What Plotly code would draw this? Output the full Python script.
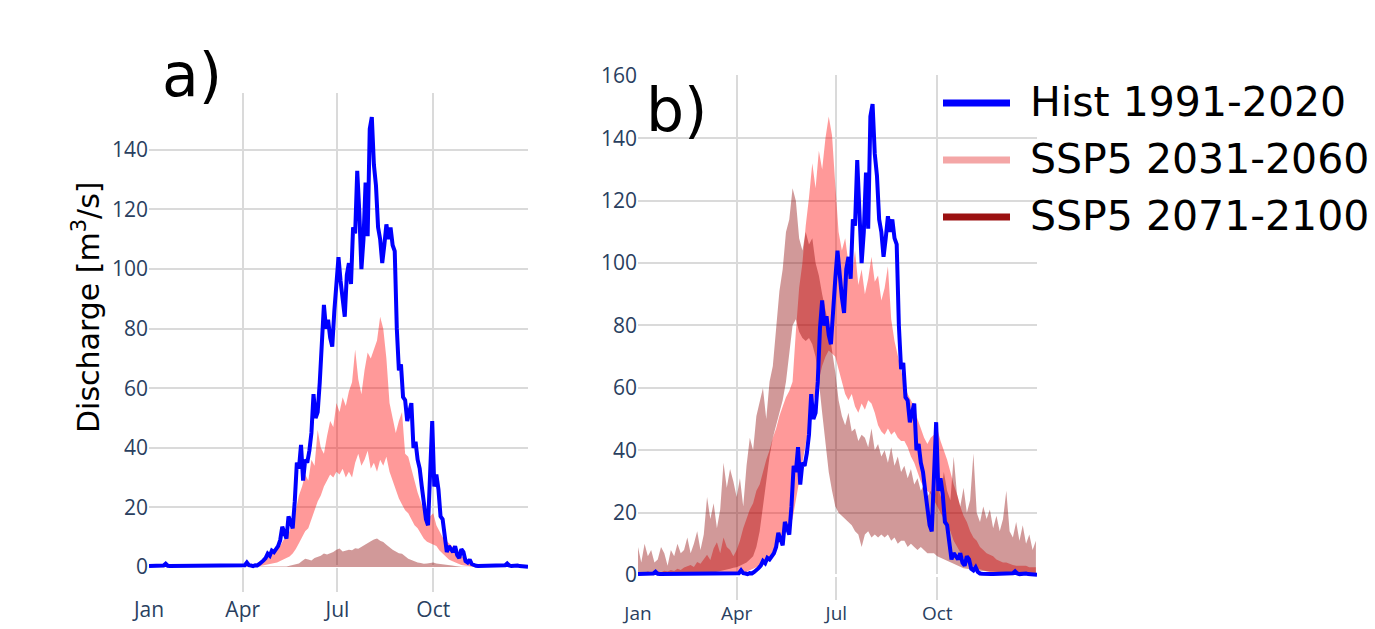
import plotly.graph_objects as go
import pandas as pd

# ---------------- data ----------------
START = "2021-01-01"
END = "2021-12-31"
HIST_STEP_DAYS = 2      # historic series sampled every 2 days
BAND_STEP_DAYS = 3      # scenario bands sampled every 3 days

month_ticks = ["2021-01-01", "2021-04-01", "2021-07-01", "2021-10-01"]
month_labels = ["Jan", "Apr", "Jul", "Oct"]

series_names = ["Hist 1991-2020", "SSP5 2031-2060", "SSP5 2071-2100"]

# Hist 1991-2020 (same in both panels), m3/s
hist = [
    0.3, 0.3, 0.4, 0.3, 0.3, 0.4, 0.3, 0.5, 1.1, 0.4,
    0.3, 0.3, 0.3, 0.3, 0.3, 0.3, 0.3, 0.3, 0.3, 0.3,
    0.3, 0.3, 0.3, 0.3, 0.3, 0.3, 0.3, 0.3, 0.3, 0.3,
    0.3, 0.3, 0.3, 0.3, 0.3, 0.3, 0.3, 0.3, 0.3, 0.3,
    0.3, 0.3, 0.4, 0.4, 0.4, 0.5, 0.6, 1.5, 0.6, 0.5,
    0.3, 0.6, 0.5, 1.0, 1.5, 2.2, 3.0, 4.5, 3.8, 5.5,
    5.0, 6.2, 7.0, 9.0, 13.5, 11.5, 9.5, 17, 15, 13,
    22, 35, 33, 41, 29, 36, 35, 39, 45, 58,
    50, 52, 62, 79, 88, 80, 83, 77, 74, 86,
    95, 104, 96, 89, 84, 98, 102, 95, 114, 112,
    133, 119, 100, 110, 129, 111, 147, 151, 135, 128,
    114, 110, 102, 108, 115, 110, 114, 108, 106, 80,
    66, 68, 57, 56, 49, 52, 55, 40, 42, 36,
    33, 27, 22, 16, 14, 30, 49, 27, 31, 26,
    17, 16, 9, 5, 7, 6, 5, 7, 4, 3,
    6, 5, 2, 1.5, 2.5, 1.0, 0.5, 0.4, 0.3, 0.3,
    0.3, 0.3, 0.3, 0.3, 0.3, 0.3, 0.3, 0.3, 0.3, 0.3,
    0.4, 0.6, 1.2, 0.5, 0.3, 0.4, 0.3, 0.5, 0.3, 0.2,
    0.4, 0.2, 0.1,
]

# panel a) SSP5 2031-2060 band
a_near_lo = [
    0, 0, 0, 0, 0, 0, 0, 0, 0, 0,
    0, 0, 0, 0, 0, 0, 0, 0, 0, 0,
    0, 0, 0, 0, 0, 0, 0, 0, 0, 0,
    0, 0, 0, 0, 0.1, 0.2, 0.4, 0.6, 0.8, 1.0,
    1.2, 1.5, 2.0, 2.5, 3.0, 3.5, 4.5, 6, 8, 10,
    12, 13, 16, 19, 22, 24, 27, 29, 31, 30,
    32, 31, 33, 30, 32, 30, 35, 38, 34, 36,
    39, 33, 35, 32, 36, 34, 37, 32, 29, 26,
    23, 21, 19, 18, 16, 14, 13, 11, 9.5, 8.5,
    8, 7.5, 7, 5.5, 4.5, 3.5, 2.5, 2, 1.5, 1,
    0.7, 0.5, 0.3, 0.2, 0.1, 0.1, 0.1, 0.1, 0.1, 0.1,
    0.1, 0.1, 0.1, 0.1, 0.1, 0.1, 0.1, 0.1, 0.1, 0.1,
    0.1, 0.1,
]
a_near_hi = [
    0, 0, 0, 0, 0, 0, 0, 0, 0, 0,
    0, 0, 0, 0, 0, 0, 0, 0, 0, 0,
    0, 0, 0, 0, 0, 0, 0, 0, 0, 0,
    0, 0, 0, 0, 0.3, 0.6, 1.2, 2.0, 3.0, 4.0,
    5.0, 6.5, 7.0, 9.0, 10, 12, 15, 19, 24, 27,
    31, 29, 36, 34, 46, 40, 38, 44, 49, 47,
    55, 52, 57, 54, 59, 62, 73, 63, 58, 66,
    72, 70, 73, 76, 84, 80, 70, 55, 50, 45,
    49, 52, 38, 37, 33, 29, 25, 22, 19, 17,
    17, 18, 14, 12, 10, 9, 8, 7, 5.5, 4.5,
    3.5, 2.5, 1.8, 1.2, 0.8, 0.5, 0.3, 0.1, 0.1, 0.1,
    0.1, 0.1, 0.1, 0.1, 0.1, 0.1, 0.1, 0.1, 0.1, 0.1,
    0.1, 0.1,
]
# panel a) SSP5 2071-2100 band (upper edge; lower edge is zero)
a_far_hi = [
    0, 0, 0, 0, 0, 0, 0, 0, 0, 0,
    0, 0, 0, 0, 0, 0, 0, 0, 0, 0,
    0, 0, 0, 0, 0, 0, 0, 0, 0, 0,
    0, 0, 0, 0, 0, 0, 0, 0, 0, 0,
    0, 0, 0, 0, 0.2, 0.4, 0.6, 0.9, 1.2, 2.0,
    2.8, 2.5, 2.2, 3.0, 3.4, 3.8, 4.5, 4.2, 4.6, 5.0,
    5.8, 6.2, 5.2, 5.4, 5.8, 5.6, 6.3, 6.1, 6.8, 7.5,
    8.0, 8.6, 9.2, 9.6, 8.8, 8.4, 7.5, 6.6, 5.8, 5.2,
    4.6, 4.4, 3.5, 2.8, 2.3, 1.8, 1.5, 1.3, 1.1, 1.2,
    1.4, 1.5, 1.2, 1.1, 1.0, 0.8, 0.6, 0.5, 0.3, 0.1,
    0.1, 0.1, 0.1, 0.1, 0.1, 0.1, 0.1, 0.1, 0.1, 0.1,
    0.1, 0.1, 0.1, 0.1, 0.1, 0.1, 0.1, 0.1, 0.1, 0.1,
    0.1, 0.1,
]

# panel b) SSP5 2031-2060 band
b_near_lo = [
    0, 0, 0, 0, 0, 0, 0, 0, 0, 0,
    0, 0, 0, 0, 0, 0, 0, 0, 0, 0,
    0, 0, 0, 0, 0, 0, 0, 0, 0, 0,
    0.3, 0.5, 0.8, 1.0, 1.5, 2, 2.5, 3, 4, 5,
    6, 7.5, 9, 11, 12, 14, 16, 18, 24, 30,
    36, 42, 48, 54, 58, 63, 67, 70, 72, 71,
    70, 66, 62, 58, 56, 58, 54, 52, 55, 53,
    56, 55, 52, 48, 46, 45, 47, 45, 46, 44,
    43, 43, 41, 38, 36, 33, 30, 28, 27, 26,
    24, 22, 20, 18, 16, 14, 11, 9, 7, 5.5,
    4.5, 3.5, 2.8, 2.2, 1.8, 1.5, 1.2, 1.0, 0.9, 0.8,
    0.7, 0.6, 0.6, 0.5, 0.5, 0.5, 0.4, 0.4, 0.4, 0.4,
    0.4, 0.4,
]
b_near_hi = [
    0.6, 1.0, 0.7, 1.2, 0.8, 1.0, 1.3, 0.9, 1.4, 1.1,
    1.6, 1.3, 2.0, 1.6, 2.4, 2.8, 3.2, 2.6, 4.2, 3.6,
    5.0, 6.5, 4.8, 8.5, 10.5, 7.0, 12.0, 9.0, 8.0, 6.0,
    8, 11, 15, 18, 21, 23, 27, 29, 33, 37,
    40, 44, 47, 51, 54, 57, 59, 62, 78, 92,
    100, 112, 121, 132, 124, 136, 130, 140, 147, 141,
    125, 110, 104, 108, 100, 96, 104, 93, 98, 90,
    95, 102, 94, 96, 88, 92, 99, 82, 75, 70,
    66, 61, 58, 56, 54, 50, 47, 44, 42, 44,
    45, 47, 43, 40, 37, 33, 29, 26, 22, 19,
    17, 14, 12, 11, 9, 8, 7, 6.5, 6, 5,
    4.5, 4, 4, 3.5, 3.2, 3, 3, 2.8, 3, 2.5,
    2.6, 2.5,
]
# panel b) SSP5 2071-2100 band
b_far_lo = [
    0.3, 0.3, 0.3, 0.3, 0.3, 0.3, 0.3, 0.3, 0.3, 0.3,
    0.3, 0.3, 0.3, 0.3, 0.3, 0.3, 0.3, 0.3, 0.3, 0.3,
    0.4, 0.5, 0.6, 0.8, 1.0, 1.2, 1.5, 1.8, 2.0, 2.3,
    2.5, 3, 3.5, 4, 5, 6, 9, 14, 22, 30,
    38, 44, 48, 52, 56, 62, 72, 80, 82, 78,
    76, 75, 76, 74, 70, 62, 52, 42, 33, 27,
    22, 20, 19, 18, 17, 16, 14, 13, 9, 13,
    14, 12, 13, 12, 13, 12, 13, 11, 12, 10,
    11, 11, 9, 10, 9, 8, 9, 8, 7, 7,
    7, 6, 5.5, 5, 4.5, 4, 3.5, 3, 2.5, 2.2,
    2, 1.8, 1.6, 1.5, 1.4, 1.3, 1.2, 1.1, 1.0, 1.0,
    0.9, 0.9, 0.8, 0.8, 0.8, 0.7, 0.7, 0.7, 0.6, 0.6,
    0.6, 0.6,
]
b_far_hi = [
    9, 4, 10, 6, 8, 4, 5, 9, 7, 3,
    8, 6, 10, 7, 8, 12, 7, 10, 14, 8,
    13, 25, 18, 23, 15, 21, 36, 28, 34, 30,
    25, 31, 22, 35, 44, 40, 51, 56, 60, 50,
    62, 67, 78, 91, 98, 110, 114, 124, 120, 108,
    104, 110, 106, 108, 100, 96, 90, 85, 80, 72,
    65, 56, 51, 48, 52, 46, 47, 43, 45, 44,
    41, 47, 40, 42, 38, 40, 36, 41, 35, 38,
    33, 35, 31, 34, 29, 31, 27, 29, 25, 27,
    24, 30, 25, 33, 27, 24, 38, 26, 22, 28,
    20, 24, 39, 20, 17, 22, 18, 21, 15, 19,
    14, 18, 27, 14, 12, 17, 11, 16, 10, 13,
    8, 11,
]

# ---------------- styling ----------------
W, H = 1375, 629
BLUE = "#0000ff"
NEAR_FILL = "rgba(255,0,0,0.4)"
FAR_FILL = "rgba(139,0,0,0.4)"
NEAR_LEG = "rgba(240,128,128,0.7)"
FAR_LEG = "rgb(155,17,17)"
GRID = "rgb(218,218,218)"
TICK_FONT = dict(family="Open Sans", size=21, color="#2a3f5f")
TICK_FONT_B_X = dict(family="Open Sans", size=19, color="#2a3f5f")
BIG_FONT = "DejaVu Sans"


def dates(values, step):
    t0 = pd.Timestamp(START)
    return [t0 + pd.Timedelta(days=step * i) for i in range(len(values))]


def fx(p):
    return p / W


def fy(p):
    return 1 - p / H


fig = go.Figure()


def band(lo, hi, color, xa, ya):
    if lo is None:
        fig.add_trace(go.Scatter(x=dates(hi, BAND_STEP_DAYS), y=hi, mode="lines",
                                 line=dict(width=0), fill="tozeroy", fillcolor=color,
                                 xaxis=xa, yaxis=ya, showlegend=False, hoverinfo="skip"))
        return
    fig.add_trace(go.Scatter(x=dates(lo, BAND_STEP_DAYS), y=lo, mode="lines",
                             line=dict(width=0), xaxis=xa, yaxis=ya,
                             showlegend=False, hoverinfo="skip"))
    fig.add_trace(go.Scatter(x=dates(hi, BAND_STEP_DAYS), y=hi, mode="lines",
                             line=dict(width=0), fill="tonexty", fillcolor=color,
                             xaxis=xa, yaxis=ya, showlegend=False, hoverinfo="skip"))


# panel a
band(a_near_lo, a_near_hi, NEAR_FILL, "x", "y")
band(None, a_far_hi, FAR_FILL, "x", "y")
fig.add_trace(go.Scatter(x=dates(hist, HIST_STEP_DAYS), y=hist, mode="lines",
                         line=dict(color=BLUE, width=4), xaxis="x", yaxis="y",
                         name=series_names[0], showlegend=False))
# panel b
band(b_near_lo, b_near_hi, NEAR_FILL, "x2", "y2")
band(b_far_lo, b_far_hi, FAR_FILL, "x2", "y2")
fig.add_trace(go.Scatter(x=dates(hist, HIST_STEP_DAYS), y=hist, mode="lines",
                         line=dict(color=BLUE, width=4), xaxis="x2", yaxis="y2",
                         name=series_names[0], showlegend=False))

xcommon = dict(type="date", range=[START, END], tickvals=month_ticks, ticktext=month_labels,
               showgrid=True, gridcolor=GRID, gridwidth=2, zeroline=False, showline=False,
               ticks="", automargin=False)
ycommon = dict(dtick=20, showgrid=True, gridcolor=GRID, gridwidth=2, zeroline=True,
               zerolinecolor="white", zerolinewidth=3, showline=False, ticks="",
               tickfont=TICK_FONT, automargin=False)

fig.update_layout(
    width=W, height=H, autosize=False,
    margin=dict(l=0, r=0, t=0, b=0, pad=0),
    paper_bgcolor="white", plot_bgcolor="white",
    showlegend=False,
    xaxis=dict(domain=[fx(149), fx(528)], anchor="y", tickfont=TICK_FONT,
               ticklabelstandoff=3, **xcommon),
    yaxis=dict(domain=[fy(592), fy(93)], range=[-8.4, 159.1], anchor="x", **ycommon),
    xaxis2=dict(domain=[fx(638), fx(1037)], anchor="y2", tickfont=TICK_FONT_B_X,
                ticklabelstandoff=0, **xcommon),
    yaxis2=dict(domain=[fy(600), fy(75)], range=[-8.0, 160.3], anchor="x2", **ycommon),
)

ann = [
    dict(text="a)", x=fx(192), y=fy(75), font=dict(family=BIG_FONT, size=60, color="black")),
    dict(text="b)", x=fx(677), y=fy(110), font=dict(family=BIG_FONT, size=60, color="black")),
    dict(text="Discharge [m<sup>3</sup>/s]", x=fx(86), y=fy(307), textangle=-90,
         font=dict(family=BIG_FONT, size=30, color="black")),
]
for a in ann:
    a.update(xref="paper", yref="paper", showarrow=False, xanchor="center", yanchor="middle")
    fig.add_annotation(**a)

leg_y = [102, 159, 216]
leg_colors = [BLUE, NEAR_LEG, FAR_LEG]
for name, yy, col in zip(series_names, leg_y, leg_colors):
    fig.add_shape(type="line", xref="paper", yref="paper", x0=fx(943), x1=fx(1010),
                  y0=fy(yy + 1), y1=fy(yy + 1), line=dict(color=col, width=7))
    fig.add_annotation(text=name, xref="paper", yref="paper", x=fx(1028), y=fy(yy),
                       xanchor="left", yanchor="middle", showarrow=False,
                       font=dict(family=BIG_FONT, size=41, color="black"))

fig.write_html("out.html", config={"displayModeBar": False},
               post_script="document.body.style.margin='0';")
